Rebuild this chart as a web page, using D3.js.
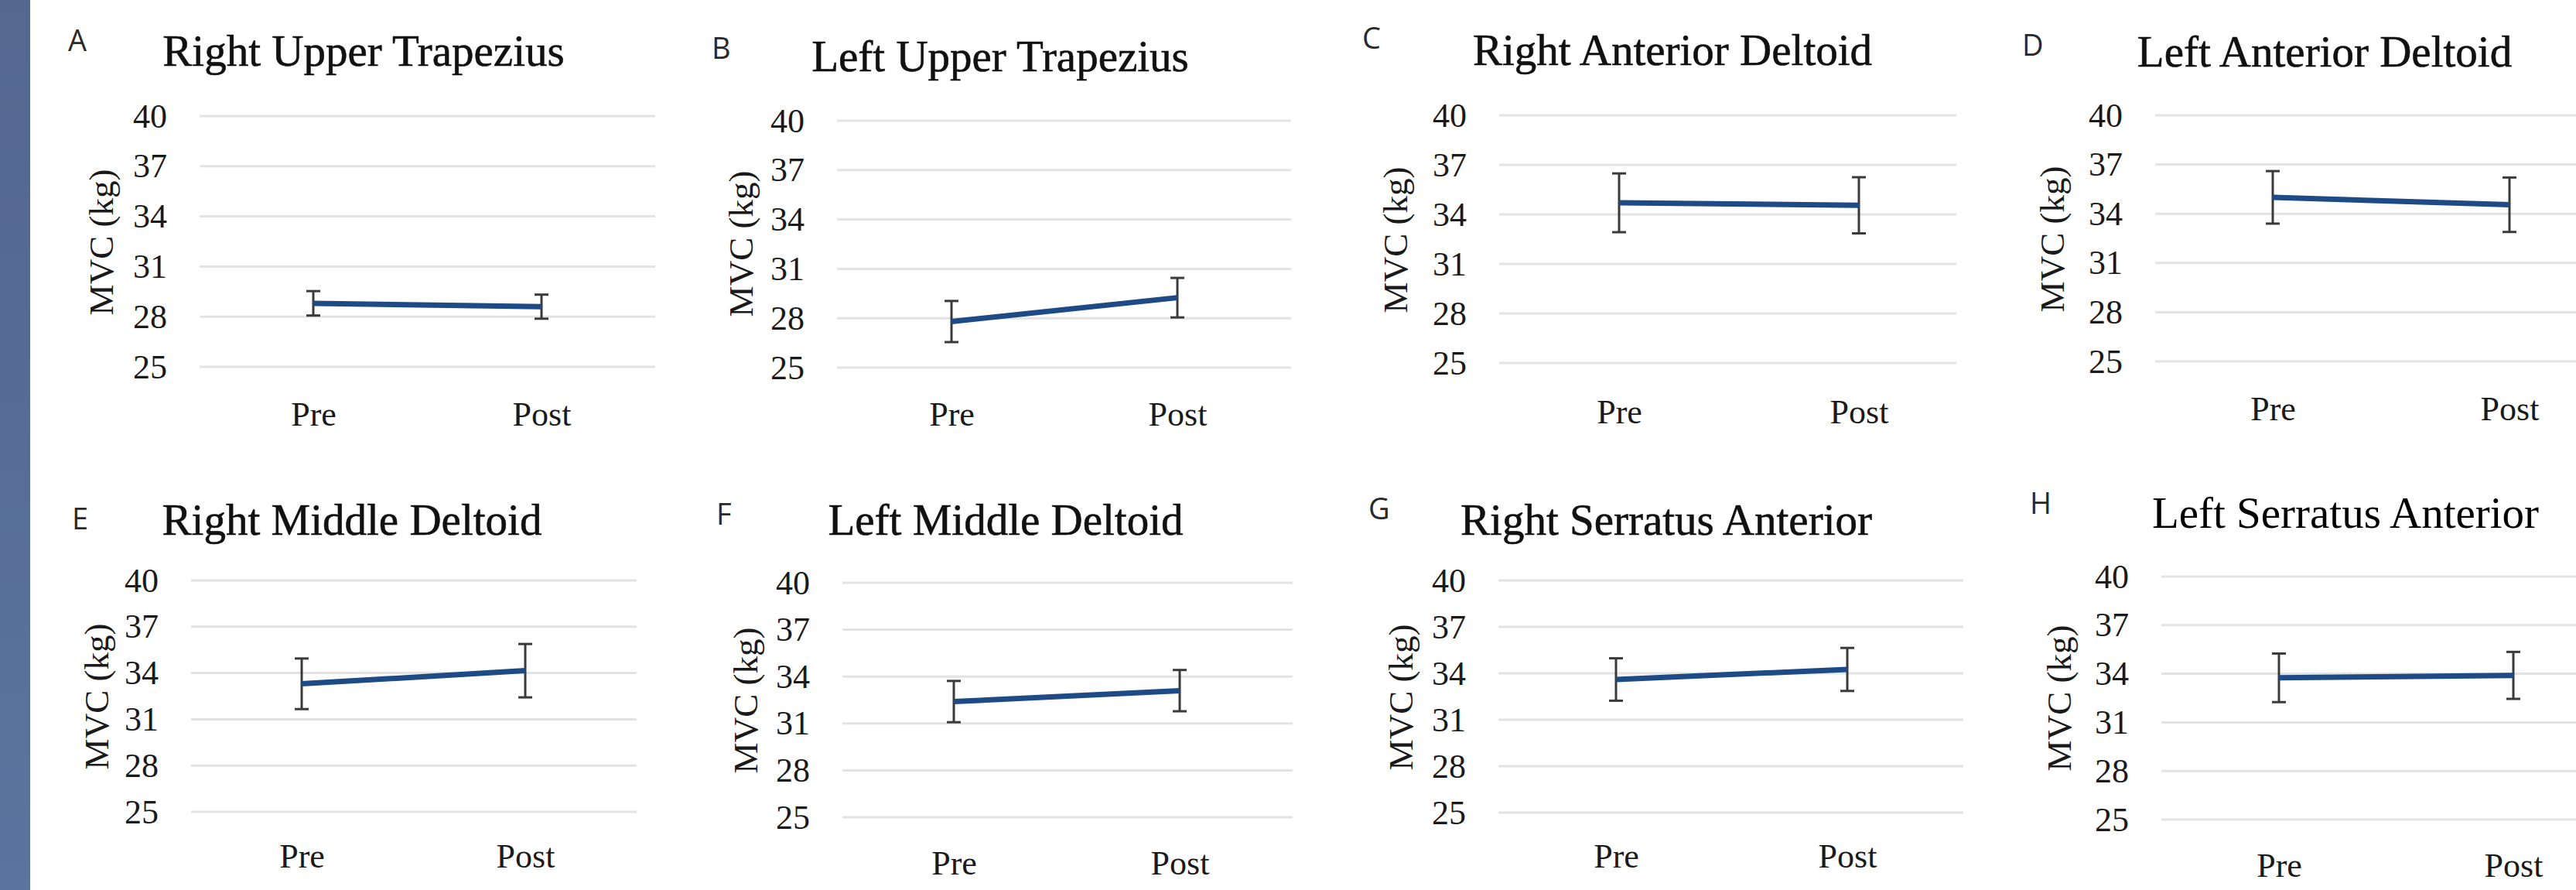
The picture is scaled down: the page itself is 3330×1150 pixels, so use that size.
<!doctype html>
<html lang="en">
    <head>
        <meta charset="utf-8">
        <style>
        body, html{
            margin:0;
            padding:0;
            border:none;
            background:white;
            overflow:hidden;
        }
        svg{
            position:absolute;
            top:0;
            left:0;
        }
        </style>
    </head>
    <body>
        <div id="chart"></div>
        <script src="https://cdn.jsdelivr.net/npm/d3@7"></script>
        <script>

const categories = ["Pre", "Post"];
const yTicks = [25, 28, 31, 34, 37, 40];
const panelLetters = ["A", "B", "C", "D", "E", "F", "G", "H"];
const muscles = [
  "Right Upper Trapezius", "Left Upper Trapezius",
  "Right Anterior Deltoid", "Left Anterior Deltoid",
  "Right Middle Deltoid", "Left Middle Deltoid",
  "Right Serratus Anterior", "Left Serratus Anterior"
];
const preMean = [28.8, 27.8, 34.7, 35.0, 33.3, 32.4, 33.6, 33.75];
const postMean = [28.6, 29.25, 34.55, 34.55, 34.15, 33.1, 34.25, 33.9];
const preErr = [0.73, 1.25, 1.78, 1.6, 1.64, 1.32, 1.37, 1.5];
const postErr = [0.72, 1.2, 1.7, 1.66, 1.73, 1.32, 1.39, 1.45];

// where each small panel sits in the picture (they are not on a clean grid)
const layout = [
  {gx: [258, 847], px: [405, 700], gy: [474, 150], letter: [88, 66], title: [470, 85], ylab: [132, 313], catY: 551},
  {gx: [1082, 1669], px: [1230, 1522], gy: [475, 156], letter: [920, 76], title: [1293, 92], ylab: [959, 315], catY: 551},
  {gx: [1938, 2529], px: [2093, 2403], gy: [469, 149], letter: [1761, 63], title: [2162, 84], ylab: [1805, 310], catY: 548},
  {gx: [2786, 3400], px: [2938, 3244], gy: [467, 149], letter: [2614, 72], title: [3005, 86], ylab: [2654, 309], catY: 544},
  {gx: [247, 823], px: [390, 679], gy: [1049, 750], letter: [93, 684], title: [455, 691], ylab: [126, 900], catY: 1122},
  {gx: [1089, 1671], px: [1233, 1525], gy: [1056, 753], letter: [926, 678], title: [1300, 691], ylab: [965, 905], catY: 1131},
  {gx: [1937, 2538], px: [2089, 2388], gy: [1050, 750], letter: [1769, 671], title: [2154, 691], ylab: [1812, 901], catY: 1122},
  {gx: [2794, 3400], px: [2946, 3249], gy: [1059, 745], letter: [2624, 664], title: [3032, 682], ylab: [2663, 902], catY: 1134}
];

const width = 3330;
const height = 1150;
const serif = "'Liberation Serif', 'DejaVu Serif', serif";

const svg = d3.select("#chart").append("svg")
  .attr("width", width)
  .attr("height", height);

const defs = svg.append("defs");
const grad = defs.append("linearGradient")
  .attr("id", "strip")
  .attr("x1", 0).attr("y1", 0).attr("x2", 0).attr("y2", 1);
grad.append("stop").attr("offset", "0%").attr("stop-color", "#53678f");
grad.append("stop").attr("offset", "100%").attr("stop-color", "#5b739e");

svg.append("rect")
  .attr("x", 0).attr("y", 0)
  .attr("width", 39).attr("height", height)
  .attr("fill", "url(#strip)");

const panels = muscles.map((m, i) => ({
  letter: panelLetters[i],
  title: m,
  points: categories.map((c, j) => ({
    cat: c,
    mean: j === 0 ? preMean[i] : postMean[i],
    err: j === 0 ? preErr[i] : postErr[i]
  })),
  box: layout[i]
}));

panels.forEach((p, i) => {
  const b = p.box;
  const g = svg.append("g");

  const x = d3.scalePoint().domain(categories).range(b.px);
  const y = d3.scaleLinear().domain([25, 40]).range(b.gy);

  // gridlines
  g.selectAll("line.grid").data(yTicks).enter().append("line")
    .attr("class", "grid")
    .attr("x1", b.gx[0])
    .attr("x2", b.gx[1])
    .attr("y1", (d) => y(d))
    .attr("y2", (d) => y(d))
    .style("stroke", "#e3e3e3")
    .style("stroke-width", 3);

  // y axis labels, no domain line
  const yAxis = d3.axisLeft(y).tickValues(yTicks).tickSize(0).tickPadding(0);
  const ya = g.append("g")
    .attr("transform", `translate(${b.gx[0] - 42},0)`)
    .call(yAxis);
  ya.select(".domain").remove();
  ya.selectAll("text")
    .style("font-family", serif)
    .style("font-size", "44px")
    .style("fill", "#1a1a1a");

  // category labels
  const xAxis = d3.axisBottom(x).tickSize(0).tickPadding(0);
  const xa = g.append("g")
    .attr("transform", `translate(0,${b.catY - 32})`)
    .call(xAxis);
  xa.select(".domain").remove();
  xa.selectAll("text")
    .attr("dy", "0.71em")
    .style("font-family", serif)
    .style("font-size", "44px")
    .style("fill", "#1a1a1a");

  // y axis title
  g.append("text")
    .attr("transform", `translate(${b.ylab[0] + 14},${b.ylab[1]}) rotate(-90)`)
    .attr("text-anchor", "middle")
    .style("font-family", serif)
    .style("font-size", "45px")
    .style("fill", "#1a1a1a")
    .text("MVC (kg)");

  // panel letter
  g.append("text")
    .attr("x", b.letter[0])
    .attr("y", b.letter[1])
    .style("font-family", "'Open Sans', 'Liberation Sans', sans-serif")
    .style("font-size", "38px")
    .style("fill", "#2a2a2a")
    .text(p.letter);

  // title
  g.append("text")
    .attr("x", b.title[0])
    .attr("y", b.title[1])
    .attr("text-anchor", "middle")
    .style("font-family", serif)
    .style("font-size", "57px")
    .style("fill", i === 7 ? "#000" : "#111")
    .style("stroke", i === 7 ? "none" : "#111")
    .style("stroke-width", 0.6)
    .text(p.title);

  // error bars
  const eb = g.selectAll("g.err").data(p.points).enter().append("g")
    .attr("class", "err")
    .style("stroke", "#3a3a3a")
    .style("stroke-width", 3);
  eb.append("line")
    .attr("x1", (d) => x(d.cat)).attr("x2", (d) => x(d.cat))
    .attr("y1", (d) => y(d.mean + d.err)).attr("y2", (d) => y(d.mean - d.err));
  eb.append("line")
    .attr("x1", (d) => x(d.cat) - 9).attr("x2", (d) => x(d.cat) + 9)
    .attr("y1", (d) => y(d.mean + d.err)).attr("y2", (d) => y(d.mean + d.err));
  eb.append("line")
    .attr("x1", (d) => x(d.cat) - 9).attr("x2", (d) => x(d.cat) + 9)
    .attr("y1", (d) => y(d.mean - d.err)).attr("y2", (d) => y(d.mean - d.err));

  // mean line
  const line = d3.line()
    .x((d) => x(d.cat))
    .y((d) => y(d.mean));
  g.append("path")
    .datum(p.points)
    .attr("d", line)
    .style("fill", "none")
    .style("stroke", "#1e4a85")
    .style("stroke-width", 7);
});

        </script>
    </body>
</html>
